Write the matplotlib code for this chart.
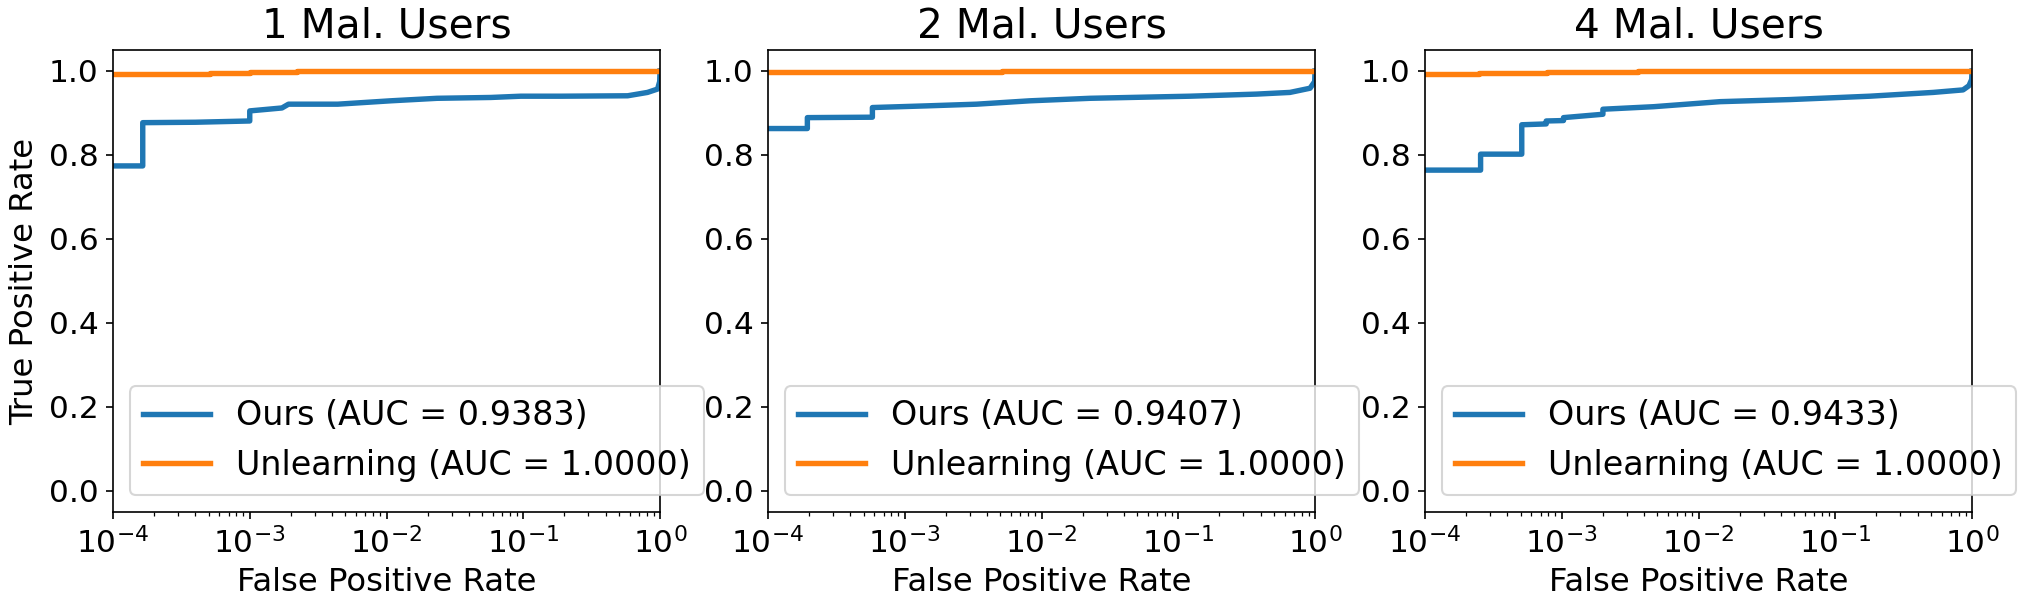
import matplotlib
matplotlib.use("Agg")
import matplotlib.pyplot as plt
import numpy as np

titles = ["1 Mal. Users", "2 Mal. Users", "4 Mal. Users"]
ours_auc = ["0.9383", "0.9407", "0.9433"]
unl_auc = ["1.0000", "1.0000", "1.0000"]

# Panel 1 (1 malicious user)
ours_fpr_1 = [1e-4, 1.65e-4, 1.65e-4, 4e-4, 1.0e-3, 1.0e-3, 1.72e-3, 1.92e-3, 4.4e-3, 1.07e-2, 2.34e-2, 5.8e-2, 9.6e-2, 0.188, 0.58, 0.81, 0.96, 0.995, 1.0]
ours_tpr_1 = [0.774, 0.774, 0.877, 0.878, 0.881, 0.905, 0.912, 0.921, 0.921, 0.929, 0.935, 0.937, 0.940, 0.940, 0.941, 0.949, 0.957, 0.975, 1.0]
unl_fpr_1 = [1e-4, 5.1e-4, 5.1e-4, 1.0e-3, 1.0e-3, 2.2e-3, 2.2e-3, 1.0]
unl_tpr_1 = [0.9935, 0.9935, 0.996, 0.996, 0.998, 0.998, 1.0, 1.0]

# Panel 2 (2 malicious users)
ours_fpr_2 = [1e-4, 1.94e-4, 1.94e-4, 5.8e-4, 5.8e-4, 1.45e-3, 3.35e-3, 8.2e-3, 2.26e-2, 0.122, 0.374, 0.656, 0.92, 0.995, 1.0]
ours_tpr_2 = [0.863, 0.863, 0.889, 0.890, 0.913, 0.917, 0.921, 0.929, 0.935, 0.940, 0.945, 0.949, 0.959, 0.975, 1.0]
unl_fpr_2 = [1e-4, 5.1e-3, 5.1e-3, 1.0]
unl_tpr_2 = [0.997, 0.997, 1.0, 1.0]

# Panel 3 (4 malicious users)
ours_fpr_3 = [1e-4, 2.55e-4, 2.55e-4, 5.1e-4, 5.1e-4, 7.7e-4, 7.7e-4, 1.03e-3, 1.03e-3, 2.0e-3, 2.0e-3, 4.7e-3, 1.44e-2, 4.68e-2, 0.179, 0.52, 0.86, 0.95, 0.995, 1.0]
ours_tpr_3 = [0.764, 0.764, 0.802, 0.802, 0.872, 0.874, 0.881, 0.882, 0.889, 0.897, 0.909, 0.915, 0.927, 0.932, 0.940, 0.949, 0.955, 0.965, 0.98, 1.0]
unl_fpr_3 = [1e-4, 2.5e-4, 2.5e-4, 7.8e-4, 7.8e-4, 3.6e-3, 3.6e-3, 1.0]
unl_tpr_3 = [0.9935, 0.9935, 0.996, 0.996, 0.998, 0.998, 1.0, 1.0]

ours = [(ours_fpr_1, ours_tpr_1), (ours_fpr_2, ours_tpr_2), (ours_fpr_3, ours_tpr_3)]
unl = [(unl_fpr_1, unl_tpr_1), (unl_fpr_2, unl_tpr_2), (unl_fpr_3, unl_tpr_3)]

W, H = 2026, 605
DPI = 150
fig = plt.figure(figsize=(W / DPI, H / DPI), dpi=DPI)
lefts = [113, 768, 1425]
for i in range(3):
    ax = fig.add_axes([lefts[i] / W, (H - 512) / H, 547 / W, 462 / H])
    ax.plot(ours[i][0], ours[i][1], color="#1f77b4", lw=2.6,
            label=f"Ours (AUC = {ours_auc[i]})")
    ax.plot(unl[i][0], unl[i][1], color="#ff7f0e", lw=2.6,
            label=f"Unlearning (AUC = {unl_auc[i]})")
    ax.set_xscale("log")
    ax.set_xlim(1e-4, 1)
    ax.set_ylim(-0.05, 1.05)
    ax.set_title(titles[i], fontsize=19.5)
    ax.set_xlabel("False Positive Rate", fontsize=15.5)
    if i == 0:
        ax.set_ylabel("True Positive Rate", fontsize=15.5)
    ax.tick_params(axis="both", which="major", labelsize=15)
    ax.legend(loc="lower left", fontsize=16)

fig.savefig("out.png", dpi=DPI)
